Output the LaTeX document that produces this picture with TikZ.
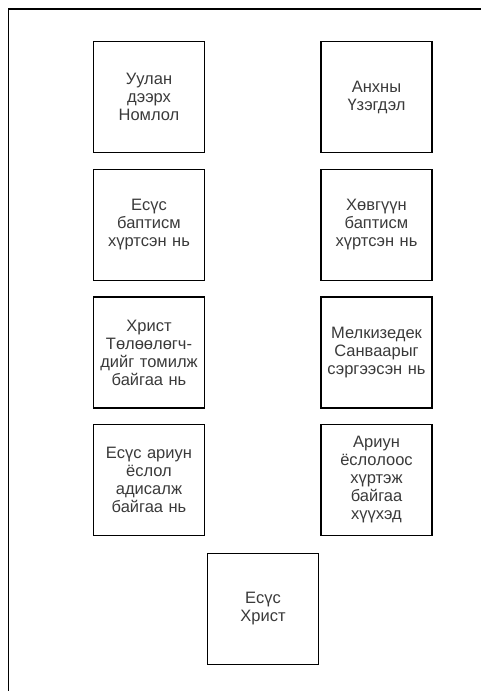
\documentclass[tikz,border=0pt]{standalone}
\usepackage{fontspec}
\setmainfont{Liberation Sans}
\definecolor{txt}{HTML}{3A3A3A}
\begin{document}
\begin{tikzpicture}[x=1pt,y=-1pt,
  boxn/.style={draw=black, line width=1.3pt, minimum width=111pt, minimum height=111pt,
    inner sep=0pt, align=center, text width=108pt, text=txt,
    font=\fontsize{16.5pt}{18pt}\selectfont},
  frame/.style={draw=black, line width=1.3pt}]
\useasboundingbox (0,0) rectangle (481,691);
\draw[frame] (8.7,691) -- (8.7,9) -- (481,9);
\node[boxn] (a1) at (149,97) {Уулан\\дээрх\\Номлол};
\node[boxn] (b1) at (376.5,97) {Анхны\\Үзэгдэл};
\node[boxn] (a2) at (149,225) {Есүс\\баптисм\\хүртсэн нь};
\node[boxn] (b2) at (376.5,225) {Хөвгүүн\\баптисм\\хүртсэн нь};
\node[boxn] (a3) at (149,352.5) {Христ\\Төлөөлөгч-\\дийг томилж\\байгаа нь};
\node[boxn] (b3) at (376.5,352.5) {Мелкизедек\\Санваарыг\\сэргээсэн нь};
\node[boxn] (a4) at (149,480) {Есүс ариун\\ёслол\\адисалж\\байгаа нь};
\node[boxn] (b4) at (376.5,480) {Ариун\\ёслолоос\\хүртэж\\байгаа\\хүүхэд};
\node[boxn] (c5) at (263,609) {Есүс\\Христ};
\end{tikzpicture}
\end{document}
